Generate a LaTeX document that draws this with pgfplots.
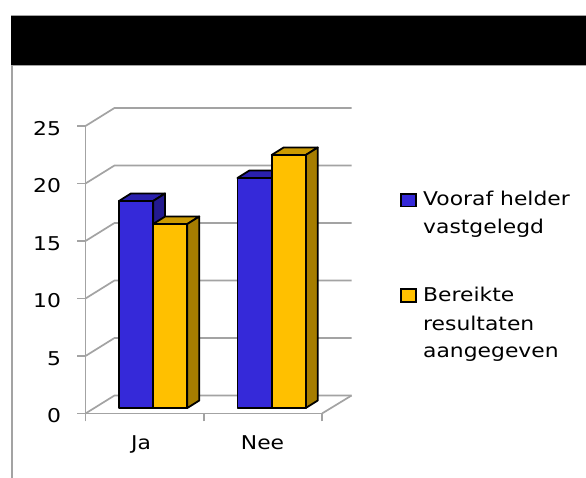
\documentclass[border=0pt]{standalone}
\usepackage{pgfplots}
\pgfplotsset{compat=1.18}
\usepackage{fontspec}
\setmainfont[FakeStretch=1.15]{DejaVu Sans}
\definecolor{gridgray}{HTML}{A3A3A3}
\definecolor{blueF}{HTML}{3529D9}
\definecolor{blueT}{HTML}{2A20AE}
\definecolor{blueS}{HTML}{231A8F}
\definecolor{yelF}{HTML}{FFC000}
\definecolor{yelT}{HTML}{CC9A00}
\definecolor{yelS}{HTML}{A67D00}
\newcommand{\lab}{\fontsize{19bp}{22bp}\selectfont}
\begin{document}
\begin{tikzpicture}[x=1bp,y=1bp]
\path[use as bounding box,fill=white] (0,0) rectangle (586,478);
\draw[gridgray,line width=1.7bp] (12,0) -- (12,413);
\fill[black] (11,413) rectangle (586,463);
\draw[gridgray,line width=0.8bp] (11,463) -- (586,463);
\draw[gridgray,line width=1.2bp] (11,412.6) -- (586,412.6);
% walls
\begin{axis}[
  at={(85.5bp,64.5bp)},anchor=south west,scale only axis,
  width=236.5bp,height=287.5bp,
  xmin=0,xmax=2,ymin=0,ymax=25,clip=false,
  axis lines=left,axis line style={-,gridgray,line width=1.7bp},
  xtick={0,1,2},xticklabels={},
  ytick={0,5,10,15,20,25},
  tick align=outside,major tick length=8bp,
  tick style={gridgray,line width=1.7bp},
  yticklabel style={font=\lab,/pgf/number format/assume math mode=true,xshift=-13bp,yshift=-2.5bp},
]
\pgfplotsset{wall/.style={gridgray,line width=1.7bp}}
\addplot[wall] coordinates {(0,0) (0.245,1.565) (2.25,1.565)};
\addplot[wall] coordinates {(2,0) (2.25,1.565)};
\addplot[wall] coordinates {(0,5) (0.245,6.565) (2.25,6.565)};
\addplot[wall] coordinates {(0,10) (0.245,11.565) (2.25,11.565)};
\addplot[wall] coordinates {(0,15) (0.245,16.565) (2.25,16.565)};
\addplot[wall] coordinates {(0,20) (0.245,21.565) (2.25,21.565)};
\addplot[wall] coordinates {(0,25) (0.245,26.565) (2.25,26.565)};
\node[font=\lab,anchor=base] at (axis cs:0.47,-3.17) {Ja};
\node[font=\lab,anchor=base] at (axis cs:1.497,-3.17) {Nee};
\end{axis}
% bars
\begin{axis}[
  at={(85.5bp,70bp)},anchor=south west,scale only axis,
  width=236.5bp,height=287.5bp,
  xmin=0,xmax=2,ymin=0,ymax=25,clip=false,hide axis,
]
\pgfplotsset{face/.style={draw=black,line width=1.8bp,line join=round}}
% Ja
\addplot[face,fill=blueT] coordinates {(0.283,18) (0.572,18) (0.673,18.65) (0.384,18.65)} -- cycle;
\addplot[face,fill=blueS] coordinates {(0.572,18) (0.673,18.65) (0.673,0.65) (0.572,0)} -- cycle;
\addplot[ybar,bar width=34.2bp,bar shift=-17.1bp,face,fill=blueF] coordinates {(0.572,18)};
\addplot[face,fill=yelT] coordinates {(0.572,16) (0.861,16) (0.962,16.65) (0.673,16.65)} -- cycle;
\addplot[face,fill=yelS] coordinates {(0.861,16) (0.962,16.65) (0.962,0.65) (0.861,0)} -- cycle;
\addplot[ybar,bar width=34.2bp,bar shift=17.1bp,face,fill=yelF] coordinates {(0.572,16)};
% Nee
\addplot[face,fill=blueT] coordinates {(1.285,20) (1.574,20) (1.675,20.65) (1.386,20.65)} -- cycle;
\addplot[face,fill=blueS] coordinates {(1.574,20) (1.675,20.65) (1.675,0.65) (1.574,0)} -- cycle;
\addplot[ybar,bar width=34.2bp,bar shift=-17.1bp,face,fill=blueF] coordinates {(1.574,20)};
\addplot[face,fill=yelT] coordinates {(1.574,22) (1.863,22) (1.964,22.65) (1.675,22.65)} -- cycle;
\addplot[face,fill=yelS] coordinates {(1.863,22) (1.964,22.65) (1.964,0.65) (1.863,0)} -- cycle;
\addplot[ybar,bar width=34.2bp,bar shift=17.1bp,face,fill=yelF] coordinates {(1.574,22)};
\end{axis}
% legend
\draw[black,line width=1.8bp,fill=blueF] (401,271.5) rectangle (416,284);
\draw[black,line width=1.8bp,fill=yelF] (401,176) rectangle (416,189);
\node[font=\lab,anchor=base west,inner sep=0pt] at (423,272) {Vooraf helder};
\node[font=\lab,anchor=base west,inner sep=0pt] at (423,244.7) {vastgelegd};
\node[font=\lab,anchor=base west,inner sep=0pt] at (423,176) {Bereikte};
\node[font=\lab,anchor=base west,inner sep=0pt] at (423,147) {resultaten};
\node[font=\lab,anchor=base west,inner sep=0pt] at (423,120) {aangegeven};
\end{tikzpicture}
\end{document}
